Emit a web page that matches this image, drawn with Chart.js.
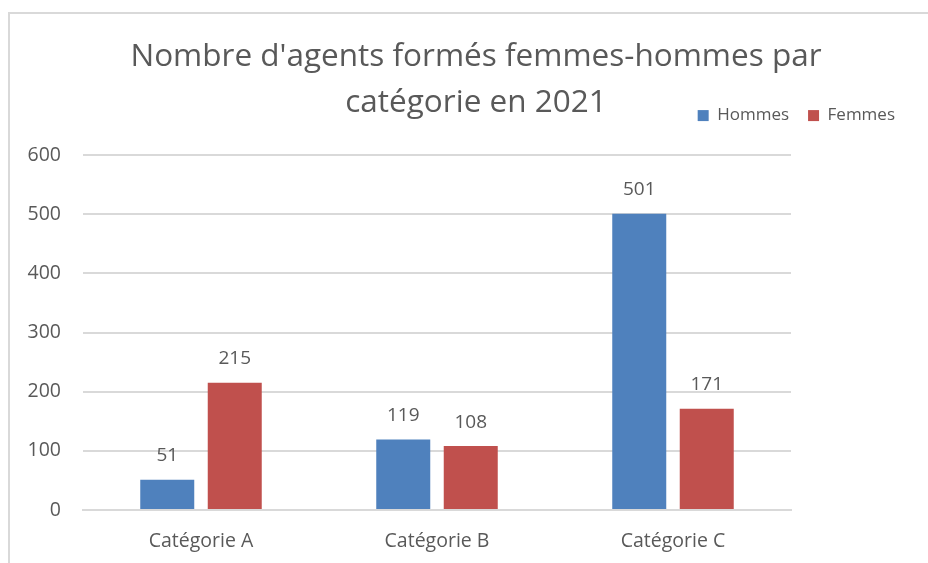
<!DOCTYPE html>
<html>
<head>
<meta charset="utf-8">
<script src="https://cdn.jsdelivr.net/npm/chart.js@4.4.1/dist/chart.umd.min.js"></script>
<style>
	html, body { margin: 0; padding: 0; background: #fff; overflow: hidden; }
	#frame { position: absolute; left: 8px; top: 12px; width: 1000px; height: 700px; border: 2px solid #d9d9d9; box-sizing: border-box; }
	#myChart { position: absolute; left: 0; top: 0; }
</style>
</head>
<body>
<div id="frame"></div>
<canvas id="myChart" width="928" height="563"></canvas>
<script>
var categories = ["Catégorie A", "Catégorie B", "Catégorie C"];
var hommes = [51, 119, 501];
var femmes = [215, 108, 171];
var yTicks = [0, 100, 200, 300, 400, 500, 600];

var textColor = "#595959";
var font = "'Open Sans', Lato, sans-serif";

// draws the value above each bar
var valueLabels = {
	id: "valueLabels",
	afterDatasetsDraw: function(chart) {
		var ctx = chart.ctx;
		ctx.save();
		ctx.font = "19px " + font;
		ctx.fillStyle = textColor;
		ctx.textAlign = "center";
		ctx.textBaseline = "middle";
		chart.data.datasets.forEach(function(ds, i) {
			chart.getDatasetMeta(i).data.forEach(function(bar, j) {
				ctx.fillText(ds.data[j], bar.x, bar.y - 24);
			});
		});
		ctx.restore();
	}
};

// the title sits a bit right of the canvas centre
var shiftTitle = {
	id: "shiftTitle",
	beforeDraw: function(chart) {
		if (chart.titleBlock && !chart.titleBlock._shifted) {
			chart.titleBlock.left += 19;
			chart.titleBlock.right += 19;
			chart.titleBlock._shifted = true;
		}
	},
	afterLayout: function(chart) {
		if (chart.titleBlock) chart.titleBlock._shifted = false;
	}
};

new Chart("myChart", {
	type: "bar",
	data: {
		labels: categories,
		datasets: [{
			label: "Hommes",
			data: hommes,
			backgroundColor: "#4f81bd",
			categoryPercentage: 0.572,
			barPercentage: 0.8
		}, {
			label: "Femmes",
			data: femmes,
			backgroundColor: "#c0504d",
			categoryPercentage: 0.572,
			barPercentage: 0.8
		}]
	},
	plugins: [valueLabels, shiftTitle],
	options: {
		responsive: false,
		animation: false,
		layout: { padding: { left: 0, right: 14, top: 0, bottom: 0 } },
		plugins: {
			title: {
				display: true,
				text: ["Nombre d'agents formés femmes-hommes par", "catégorie en 2021"],
				color: textColor,
				font: { family: font, size: 31.5, weight: "normal", lineHeight: 1.43 },
				padding: { top: 35, bottom: -37 }
			},
			subtitle: {
				display: true,
				text: " ",
				weight: 500,
				font: { size: 1, lineHeight: 1 },
				padding: { top: 0, bottom: 20 }
			},
			legend: {
				position: "top",
				align: "end",
				labels: {
					color: textColor,
					font: { family: font, size: 17 },
					boxWidth: 11,
					boxHeight: 11,
					padding: 19
				}
			},
			tooltip: { enabled: false }
		},
		scales: {
			x: {
				afterFit: function(s) { s.height = 53; },
				grid: { display: false, drawTicks: false },
				border: { color: "#d9d9d9", width: 2 },
				ticks: { color: textColor, font: { family: font, size: 19.5 }, padding: 20 }
			},
			y: {
				min: 0,
				max: 600,
				afterBuildTicks: function(s) {
					s.ticks = yTicks.map(function(v) { return { value: v }; });
				},
				afterFit: function(s) { s.width = 83; },
				grid: { color: "#d9d9d9", lineWidth: 2, drawTicks: false },
				border: { display: false },
				ticks: { color: textColor, font: { family: font, size: 19.5 }, padding: 22 }
			},
			y2: {
				position: "right",
				grid: { display: false },
				border: { display: false },
				ticks: { display: false },
				afterFit: function(s) { s.width = 123; }
			}
		}
	}
});
</script>
</body>
</html>
